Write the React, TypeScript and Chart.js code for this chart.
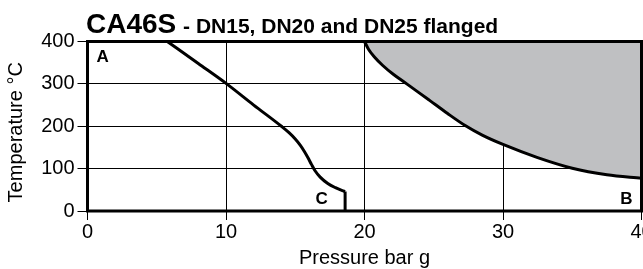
import React, { useEffect, useRef } from 'react';
import { Chart, registerables } from 'chart.js';

Chart.register(...registerables);

const FONT = "'Liberation Sans', Arial, Helvetica, sans-serif";

const TITLE_MAIN = 'CA46S';
const TITLE_SUB = ' - DN15, DN20 and DN25 flanged';
const X_TITLE = 'Pressure bar g';
const Y_TITLE = 'Temperature °C';

const X_TICKS = [0, 10, 20, 30, 40];
const Y_TICKS = [0, 100, 200, 300, 400];

// Left limiting curve (pressure bar g, temperature °C)
const CURVE_P = [5.76, 8.0, 10.05, 12.0, 14.0, 14.55, 15.0, 15.37, 15.67, 15.93, 16.17, 16.43, 16.8, 17.35, 17.9, 18.4, 18.6];
const CURVE_T = [400, 348, 300, 250, 200, 185, 170, 155, 140, 125, 110, 95, 80, 65, 55, 48, 46];
const VERTICAL_P = [18.6, 18.6];
const VERTICAL_T = [46, 0];

// Right limiting curve bounding the shaded (not usable) region
const LIMIT_P = [20, 20.3, 20.7, 21.3, 22.1, 23.05, 23.9, 24.7, 26, 27.3, 28.5, 30, 32.5, 35, 37.5, 40];
const LIMIT_T = [400, 381, 364, 344, 322, 300, 280, 261, 230, 201, 179, 157, 126, 101, 85.5, 77];

// Region labels
const REGION_TEXT = ['A', 'C', 'B'];
const REGION_P = [1.1, 16.9, 38.9];
const REGION_T = [362, 28, 27];

const toPoints = (xs: number[], ys: number[]) => xs.map((x, i) => ({ x, y: ys[i] }));

const overlayPlugin = {
  id: 'overlay',
  afterDatasetsDraw(chart: any) {
    const { ctx, chartArea, scales } = chart;
    const { left, top, right, bottom } = chartArea;
    ctx.save();
    // frame
    ctx.strokeStyle = '#000';
    ctx.lineWidth = 3;
    ctx.strokeRect(left, top, right - left, bottom - top);
    // region labels
    ctx.fillStyle = '#000';
    ctx.font = `bold 17px ${FONT}`;
    ctx.textAlign = 'center';
    ctx.textBaseline = 'middle';
    REGION_TEXT.forEach((t, i) => {
      ctx.fillText(t, scales.x.getPixelForValue(REGION_P[i]), scales.y.getPixelForValue(REGION_T[i]));
    });
    // y-axis title
    ctx.save();
    ctx.translate(16, (top + bottom) / 2 + 6);
    ctx.rotate(-Math.PI / 2);
    ctx.font = `20px ${FONT}`;
    ctx.fillText(Y_TITLE, 0, 0);
    ctx.restore();
    // title
    ctx.textAlign = 'left';
    ctx.textBaseline = 'alphabetic';
    const tx = left - 1.5;
    const ty = top - 8.5;
    ctx.font = `bold 28px ${FONT}`;
    ctx.fillText(TITLE_MAIN, tx, ty);
    const w = ctx.measureText(TITLE_MAIN).width;
    ctx.font = `bold 21px ${FONT}`;
    ctx.fillText(TITLE_SUB, tx + w + 1, ty);
    ctx.restore();
  },
};

export default function App() {
  const canvasRef = useRef<HTMLCanvasElement | null>(null);

  useEffect(() => {
    const canvas = canvasRef.current;
    if (!canvas) return;
    const chart = new Chart(canvas, {
      type: 'line',
      data: {
        datasets: [
          {
            data: toPoints(LIMIT_P, LIMIT_T),
            borderColor: '#000',
            borderWidth: 3,
            backgroundColor: '#bfc0c2',
            fill: 'end',
            pointRadius: 0,
            cubicInterpolationMode: 'monotone',
          },
          {
            data: toPoints(CURVE_P, CURVE_T),
            borderColor: '#000',
            borderWidth: 3,
            fill: false,
            pointRadius: 0,
            cubicInterpolationMode: 'monotone',
          },
          {
            data: toPoints(VERTICAL_P, VERTICAL_T),
            borderColor: '#000',
            borderWidth: 3,
            fill: false,
            pointRadius: 0,
            tension: 0,
          },
        ],
      } as any,
      options: {
        animation: false,
        responsive: true,
        maintainAspectRatio: false,
        events: [],
        layout: { padding: { top: 41.5, right: 1.5, bottom: 0, left: 0 } },
        plugins: {
          legend: { display: false },
          tooltip: { enabled: false },
          title: { display: false },
        },
        scales: {
          x: {
            type: 'linear',
            min: 0,
            max: 40,
            afterBuildTicks: (s: any) => {
              s.ticks = X_TICKS.map((v) => ({ value: v }));
            },
            ticks: {
              font: { family: FONT, size: 20 },
              color: '#000',
              padding: 0,
              maxRotation: 0,
              autoSkip: false,
            },
            grid: { color: '#000', lineWidth: 1, tickLength: 9 },
            border: { display: false },
            title: {
              display: true,
              text: X_TITLE,
              color: '#000',
              font: { family: FONT, size: 20, lineHeight: 1 },
              padding: { top: 0, bottom: 1 },
            },
            afterFit: (s: any) => {
              s.height = 58;
              s.paddingLeft = 0;
              s.paddingRight = 0;
            },
          },
          y: {
            type: 'linear',
            min: 0,
            max: 400,
            afterBuildTicks: (s: any) => {
              s.ticks = Y_TICKS.map((v) => ({ value: v }));
            },
            ticks: {
              font: { family: FONT, size: 20 },
              color: '#000',
              padding: 3,
              autoSkip: false,
            },
            grid: { color: '#000', lineWidth: 1, tickLength: 10 },
            border: { display: false },
            title: { display: false },
            afterFit: (s: any) => {
              s.width = 87.5;
              s.paddingTop = 0;
              s.paddingBottom = 0;
            },
          },
        },
      } as any,
      plugins: [overlayPlugin],
    });
    return () => chart.destroy();
  }, []);

  return (
    <div style={{ position: 'fixed', left: 0, top: 0, width: 643, height: 269, background: '#fff' }}>
      <canvas ref={canvasRef} />
    </div>
  );
}
